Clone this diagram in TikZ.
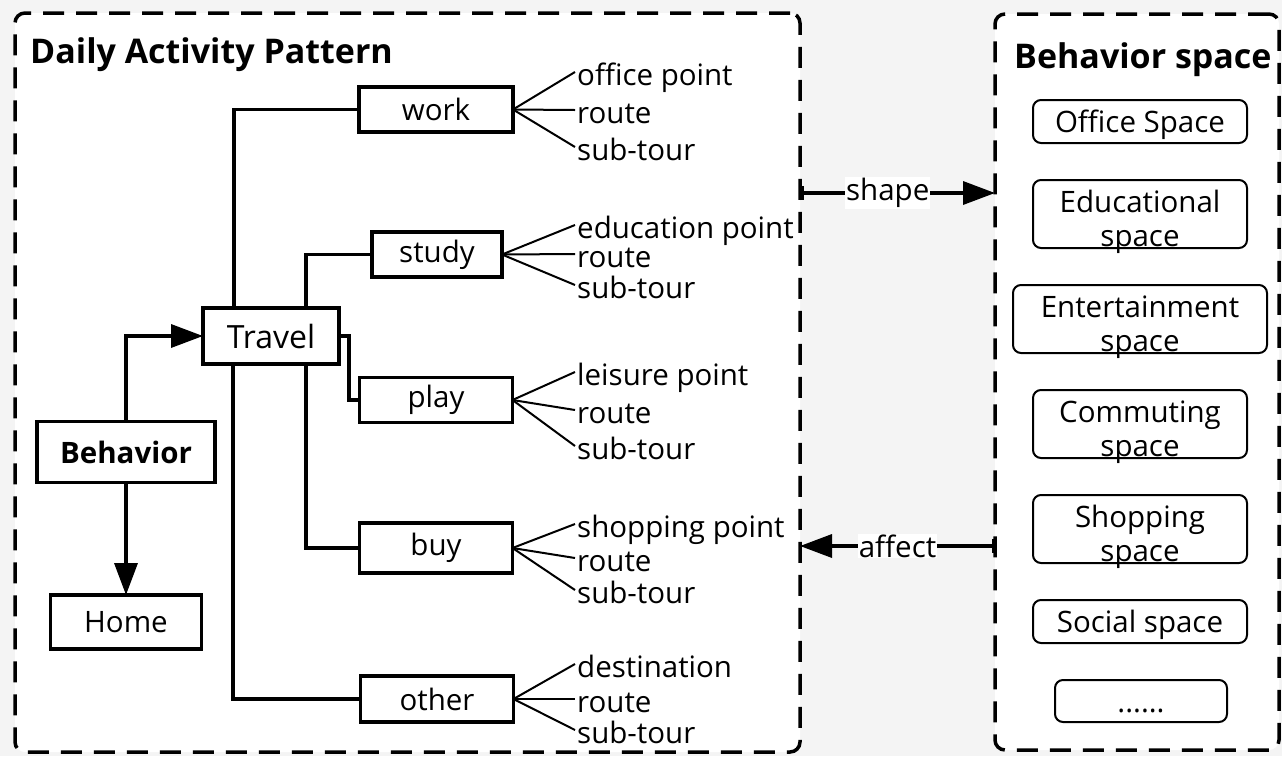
\documentclass[tikz,border=0pt]{standalone}
\usepackage{fontspec}
\setmainfont{Open Sans}
\usepackage{tikz}
\usetikzlibrary{positioning,arrows.meta}
\definecolor{cfondo}{HTML}{F4F4F4}
\newcommand\letra{\fontsize{29.5}{34}\selectfont}
\newcommand\letrag{\fontsize{32}{38}\selectfont}
\newcommand\letrat{\fontsize{34}{40}\selectfont}
\tikzset{
  marco/.style={rectangle, rounded corners=10pt, draw, line width=3.5pt,
    dash pattern=on 21pt off 12pt, fill=white, outer sep=0pt},
  caja/.style={rectangle, draw, line width=3.5pt, fill=white, inner sep=0pt,
    outer sep=0pt, minimum width=153pt, minimum height=45pt, font=\letra},
  cajae/.style={rectangle, rounded corners=8pt, draw, line width=2pt, fill=white,
    inner sep=0pt, outer sep=0pt, minimum width=214pt, minimum height=43pt,
    font=\letra, text depth=0pt},
  texto/.style={font=\letra, inner sep=0pt},
  titulo/.style={font=\letrat\bfseries, inner sep=0pt},
  flecha/.style={-{Triangle[length=32pt,width=23pt]}, line width=3.5pt},
  linea/.style={line width=3.5pt},
  rama/.style={line width=2pt},
  etq/.style={font=\letra, fill=white, inner sep=1pt},
}

\begin{document}
\begin{tikzpicture}[x=1pt,y=-1pt]
  \useasboundingbox (0,0) rectangle (1282,756);
  \fill[cfondo] (0,0) rectangle (1282,756);
  \node[marco, minimum width=785pt, minimum height=739pt] (dap) at (407.5,382.5) {};
  \node[marco, minimum width=284pt, minimum height=736pt] (bs) at (1137,382) {};
  \node[titulo, anchor=base west] (tdap) at (30,63) {Daily Activity Pattern};
  \node[titulo, anchor=base west] (tbs) at (1014,68) {Behavior space};

  \node[caja, minimum width=178pt, minimum height=61pt, font=\letra\bfseries] (beh) at (126,452) {Behavior};
  \node[caja, minimum width=151pt, minimum height=54pt] (home) at (126,622) {Home};
  \node[caja, minimum width=136pt, minimum height=56pt, font=\letrag] (trav) at (271,336) {Travel};
  \node[caja, minimum width=154pt] (work) at (436,109.5) {work};
  \node[caja, minimum width=130pt] (study) at (437,254.5) {study};
  \node[caja] (play) at (436,400) {play};
  \node[caja, minimum height=50pt] (buy) at (436,548) {buy};
  \node[caja, minimum height=46pt] (other) at (437,699) {other};

  \draw[flecha] (beh.north) |- (trav.west);
  \draw[flecha] (beh.south) -- (home.north);
  \draw[linea] ([xshift=-37pt]trav.north) |- (work.west);
  \draw[linea] ([xshift=35pt]trav.north) |- (study.west);
  \draw[linea] (trav.east) -- ++(10pt,0) |- (play.west);
  \draw[linea] ([xshift=35pt]trav.south) |- (buy.west);
  \draw[linea] ([xshift=-38pt]trav.south) |- (other.west);

  \node[texto, anchor=base west] (w1) at (577,85) {office point};
  \node[texto, anchor=base west] (w2) at (577,123) {route};
  \node[texto, anchor=base west] (w3) at (577,160) {sub-tour};
  \node[texto, anchor=base west] (s1) at (577,238) {education point};
  \node[texto, anchor=base west] (s2) at (577,267) {route};
  \node[texto, anchor=base west] (s3) at (577,298) {sub-tour};
  \node[texto, anchor=base west] (p1) at (577,385) {leisure point};
  \node[texto, anchor=base west] (p2) at (577,423) {route};
  \node[texto, anchor=base west] (p3) at (577,459) {sub-tour};
  \node[texto, anchor=base west] (b1) at (577,537) {shopping point};
  \node[texto, anchor=base west] (b2) at (577,571) {route};
  \node[texto, anchor=base west] (b3) at (577,603) {sub-tour};
  \node[texto, anchor=base west] (o1) at (577,677) {destination};
  \node[texto, anchor=base west] (o2) at (577,712) {route};
  \node[texto, anchor=base west] (o3) at (577,743) {sub-tour};

  \draw[rama] (work.east) -- ([shift={(-2pt,13pt)}]w1.base west);
  \draw[rama] (work.east) -- ([shift={(-2pt,13pt)}]w2.base west);
  \draw[rama] (work.east) -- ([shift={(-2pt,13pt)}]w3.base west);
  \draw[rama] (study.east) -- ([shift={(-2pt,13pt)}]s1.base west);
  \draw[rama] (study.east) -- ([shift={(-2pt,13pt)}]s2.base west);
  \draw[rama] (study.east) -- ([shift={(-2pt,13pt)}]s3.base west);
  \draw[rama] (play.east) -- ([shift={(-2pt,13pt)}]p1.base west);
  \draw[rama] (play.east) -- ([shift={(-2pt,13pt)}]p2.base west);
  \draw[rama] (play.east) -- ([shift={(-2pt,13pt)}]p3.base west);
  \draw[rama] (buy.east) -- ([shift={(-2pt,13pt)}]b1.base west);
  \draw[rama] (buy.east) -- ([shift={(-2pt,13pt)}]b2.base west);
  \draw[rama] (buy.east) -- ([shift={(-2pt,13pt)}]b3.base west);
  \draw[rama] (other.east) -- ([shift={(-2pt,13pt)}]o1.base west);
  \draw[rama] (other.east) -- ([shift={(-2pt,13pt)}]o2.base west);
  \draw[rama] (other.east) -- ([shift={(-2pt,13pt)}]o3.base west);

  \node[cajae] (ofi) at (1140,121.5) {Office Space};
  \node[cajae, minimum height=68pt] (edu) at (1140,214) {};
  \node[cajae, minimum width=254pt, minimum height=68pt] (ent) at (1140,319) {};
  \node[cajae, minimum height=68pt] (com) at (1140,424) {};
  \node[cajae, minimum height=68pt] (sho) at (1140,529) {};
  \node[cajae] (soc) at (1140,621.5) {Social space};
  \node[cajae, minimum width=172pt, minimum height=42pt] (mas) at (1141,701) {};
  \node[texto, align=center] (tedu) at (1140,222) {Educational\\space};
  \node[texto, align=center] (tent) at (1140,327) {Entertainment\\space};
  \node[texto, align=center] (tcom) at (1140,432) {Commuting\\space};
  \node[texto, align=center] (tsho) at (1140,537) {Shopping\\space};
  \node[texto, anchor=base] (tmas) at (1141,712) {......};

  \draw[line width=3.5pt, {Bar[width=14pt]}-{Triangle[length=32pt,width=23pt]}]
    (dap.east |- 0,193) -- (bs.west |- 0,193) node[etq, pos=0.45] {shape};
  \draw[line width=3.5pt, {Bar[width=14pt]}-{Triangle[length=32pt,width=23pt]}]
    (bs.west |- 0,546) -- (dap.east |- 0,546) node[etq, midway] {affect};
\end{tikzpicture}
\end{document}
